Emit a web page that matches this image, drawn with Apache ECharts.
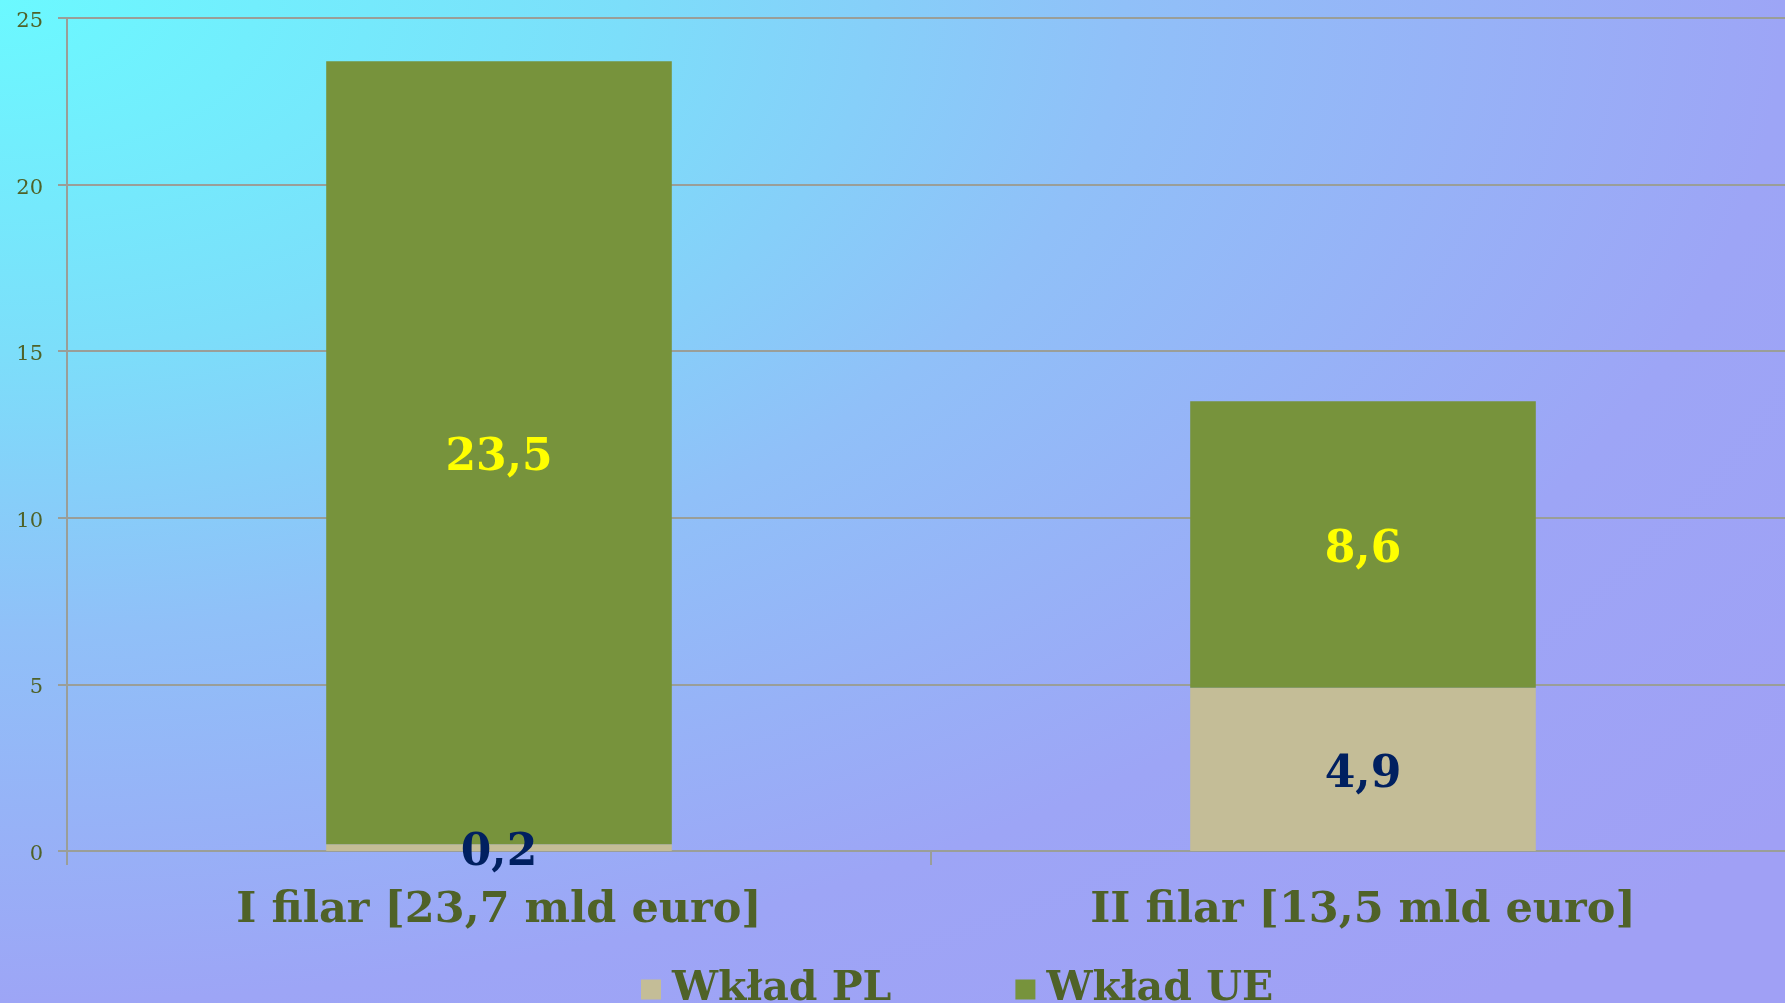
<!DOCTYPE html>
<html>
<head>
<meta charset="utf-8">
<script src="https://cdn.jsdelivr.net/npm/echarts@6/dist/echarts.min.js"></script>
<style>
html,body{margin:0;padding:0;width:1785px;height:1003px;overflow:hidden;}
#chart{width:1785px;height:1003px;background:radial-gradient(ellipse 100% 100% at 0 0,#6BF9FF 0%,#7CDEFA 35%,#90C0F8 63%,#9DA5F6 100%,#A0A0F5 130%);}
</style>
</head>
<body>
<div id="chart"></div>
<script>
var categories = ['I filar [23,7 mld euro]', 'II filar [13,5 mld euro]'];
var seriesNames = ['Wkład PL', 'Wkład UE'];
var wkladPL = [0.2, 4.9];
var wkladUE = [23.5, 8.6];
var yTicks = [0, 5, 10, 15, 20, 25];

var FONT = 'DejaVu Serif';
var textColor = '#4F6228';
var gridColor = '#9A9E98';
function fmt(p){ return String(p.value).replace('.', ','); }

var chart = echarts.init(document.getElementById('chart'), null, {renderer:'canvas'});
chart.setOption({
  backgroundColor: 'transparent',
  animation: false,
  grid: {left: 67, width: 1728, top: 18, bottom: 152, containLabel: false, outerBoundsMode: 'none'},
  legend: {
    data: seriesNames,
    bottom: -12,
    left: 636,
    icon: 'rect',
    itemWidth: 20,
    itemHeight: 20,
    itemGap: 124,
    textStyle: {fontFamily: FONT, fontWeight: 'bold', fontSize: 41, color: textColor, padding: [0, 0, 0, 6]}
  },
  xAxis: {
    type: 'category',
    data: categories,
    axisLine: {show: true, lineStyle: {color: gridColor, width: 2}},
    axisTick: {show: true, length: 14, alignWithLabel: false, lineStyle: {color: gridColor, width: 2}},
    axisLabel: {fontFamily: FONT, fontWeight: 'bold', fontSize: 43, color: textColor, margin: 38}
  },
  yAxis: {
    type: 'value',
    min: yTicks[0],
    max: yTicks[yTicks.length - 1],
    interval: 5,
    axisLine: {show: true, lineStyle: {color: gridColor, width: 2}},
    axisTick: {show: true, length: 9, lineStyle: {color: gridColor, width: 2}},
    axisLabel: {
      fontFamily: FONT, fontSize: 21, color: textColor, margin: 24,
      formatter: '{a|{value}}',
      rich: {a: {fontFamily: FONT, fontSize: 21, color: textColor, padding: [7, 0, 0, 0]}}
    },
    splitLine: {show: true, lineStyle: {color: gridColor, width: 2}}
  },
  series: [
    {
      name: seriesNames[0], type: 'bar', stack: 'total', data: wkladPL, barWidth: '40%',
      itemStyle: {color: '#C4BD97'},
      label: {show: true, position: 'inside', offset: [0, 6], formatter: fmt, fontFamily: FONT, fontWeight: 'bold', fontSize: 44, color: '#002060'}
    },
    {
      name: seriesNames[1], type: 'bar', stack: 'total', data: wkladUE, barWidth: '40%',
      itemStyle: {color: '#77933C'},
      label: {show: true, position: 'inside', offset: [0, 6], formatter: fmt, fontFamily: FONT, fontWeight: 'bold', fontSize: 44, color: '#FFFF00'}
    }
  ]
});
</script>
</body>
</html>
